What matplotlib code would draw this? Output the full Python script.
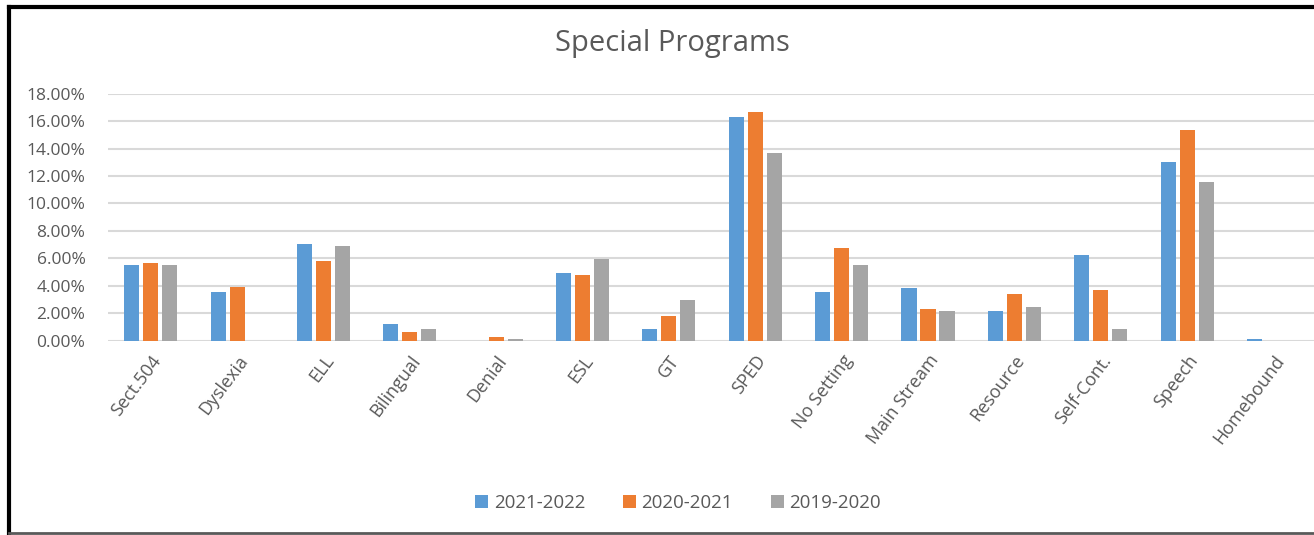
import matplotlib.pyplot as plt
import numpy as np
from matplotlib.lines import Line2D
from matplotlib.ticker import FuncFormatter

plt.rcParams['font.family'] = ['Open Sans', 'DejaVu Sans']

categories = ["Sect.504", "Dyslexia", "ELL", "Bilingual", "Denial", "ESL", "GT", "SPED",
              "No Setting", "Main Stream", "Resource", "Self-Cont.", "Speech", "Homebound"]
y2021_2022 = [5.50, 3.55, 7.05, 1.22, 0.00, 4.96, 0.83, 16.28, 3.55, 3.84, 2.19, 6.22, 13.00, 0.15]
y2020_2021 = [5.64, 3.94, 5.79, 0.66, 0.27, 4.81, 1.78, 16.65, 6.76, 2.33, 3.43, 3.70, 15.33, 0.00]
y2019_2020 = [5.50, 0.00, 6.90, 0.83, 0.15, 5.93, 2.99, 13.66, 5.50, 2.19, 2.46, 0.83, 11.57, 0.00]
series_names = ["2021-2022", "2020-2021", "2019-2020"]
colors = ["#5B9BD5", "#ED7D31", "#A5A5A5"]
text_col = "#595959"

W, H = 1314, 535
fig = plt.figure(figsize=(W / 100, H / 100), dpi=100)
ax = fig.add_axes([107.6 / W, 1 - 340.7 / H, 1209 / W, (340.7 - 93.7) / H])

x = np.arange(len(categories))
bw = 0.174
step = 0.22
for i, (vals, name, c) in enumerate(zip([y2021_2022, y2020_2021, y2019_2020], series_names, colors)):
    ax.bar(x + (i - 1) * step, vals, width=bw, color=c, label=name, zorder=3)

ax.set_xlim(-0.5, len(categories) - 0.5)
ax.set_ylim(0, 18)
ax.set_yticks(np.arange(0, 19, 2))
ax.yaxis.set_major_formatter(FuncFormatter(lambda v, p: f"{v:.2f}%"))
ax.grid(axis='y', color="#D9D9D9", linewidth=1.5, zorder=0)
for s in ax.spines.values():
    s.set_visible(False)
ax.tick_params(axis='y', length=0, pad=16, labelsize=12.5, labelcolor=text_col)
ax.tick_params(axis='x', length=0, pad=8, labelsize=13, labelcolor=text_col)
ax.set_xticks(x)
ax.set_xticklabels(categories, rotation=53, ha='right', rotation_mode='anchor')

fig.text(672 / W, 1 - 44 / H, "Special Programs", ha='center', va='center',
         fontsize=21, color=text_col)

leg = fig.legend(loc='center', bbox_to_anchor=(678 / W, 1 - 503 / H), ncol=3, frameon=False,
                 fontsize=13.5, handlelength=0.7, handleheight=0.7, handletextpad=0.3,
                 columnspacing=2.0, labelcolor=text_col)

# chart border
fig.add_artist(Line2D([9 / W, 1.0], [1 - 7 / H, 1 - 7 / H], color='black', lw=3, transform=fig.transFigure))
fig.add_artist(Line2D([9 / W, 9 / W], [1 - 7 / H, 1 - 533 / H], color='black', lw=3, transform=fig.transFigure))
fig.add_artist(Line2D([9 / W, 1.0], [1 - 533 / H, 1 - 533 / H], color='#595959', lw=2, transform=fig.transFigure))

fig.savefig("out.png", dpi=100)
